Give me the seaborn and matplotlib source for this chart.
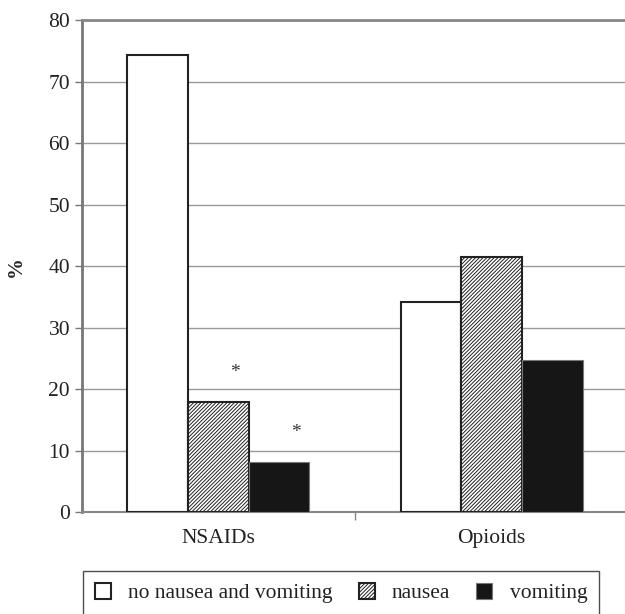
import seaborn as sns
import matplotlib.pyplot as plt
import pandas as pd

# --- data ---
groups = ["NSAIDs", "Opioids"]
outcomes = ["no nausea and vomiting", "nausea", "vomiting"]
no_nausea = [74.3, 34.1]
nausea = [17.9, 41.5]
vomiting = [8.1, 24.7]
# significance marks: (group, outcome)
stars = [("NSAIDs", "nausea"), ("NSAIDs", "vomiting")]

rows = []
for i, g in enumerate(groups):
    for name, vals in zip(outcomes, [no_nausea, nausea, vomiting]):
        rows.append({"group": g, "outcome": name, "pct": vals[i]})
df = pd.DataFrame(rows)

sns.set_style("white")
plt.rcParams["font.family"] = ["Liberation Serif", "DejaVu Serif"]
plt.rcParams["hatch.linewidth"] = 0.7

fig = plt.figure(figsize=(6.25, 6.14), dpi=100)
ax = fig.add_axes([0.131, 0.166, 0.874, 0.801])

sns.barplot(
    data=df, x="group", y="pct", hue="outcome",
    hue_order=outcomes, order=groups,
    palette=["white", "white", "#161616"],
    width=2 / 3, gap=0, legend=False, ax=ax, zorder=3,
)

# style the bars per outcome
styles = [
    dict(edgecolor="#222222", hatch=None, lw=1.5),
    dict(edgecolor="#222222", hatch="/////////", lw=1.5),
    dict(edgecolor="#777777", hatch=None, lw=0.8),
]
for cont, st in zip(ax.containers, styles):
    for p in cont.patches:
        p.set_edgecolor(st["edgecolor"])
        p.set_linewidth(st["lw"])
        if st["hatch"]:
            p.set_hatch(st["hatch"])

# asterisks
for g, o in stars:
    cont = ax.containers[outcomes.index(o)]
    p = cont.patches[groups.index(g)]
    ax.text(p.get_x() + p.get_width() * 0.77, p.get_height() + 4.8, "*",
            ha="center", va="center", fontsize=14, color="#333333")

ax.set_ylim(0, 80)
ax.set_xlim(-0.5, 1.5)
ax.set_yticks(range(0, 81, 10))
ax.yaxis.grid(True, color="#999999", lw=1, zorder=0)
ax.set_axisbelow(True)

ax.spines["right"].set_visible(False)
ax.spines["top"].set_color("#888888")
ax.spines["top"].set_linewidth(2)
ax.spines["left"].set_color("#777777")
ax.spines["left"].set_linewidth(2)
ax.spines["bottom"].set_color("#888888")
ax.spines["bottom"].set_linewidth(1.5)

ax.tick_params(axis="y", length=5, width=1, color="#777777", labelsize=15.5,
               labelcolor="#222222", direction="out", left=True)
ax.set_xticks([0, 1])
ax.set_xticklabels(groups)
ax.set_xticks([0.5], minor=True)
ax.tick_params(axis="x", which="major", length=0, labelsize=15.5,
               labelcolor="#222222", pad=12)
ax.tick_params(axis="x", which="minor", length=6, width=1, color="#888888",
               bottom=True)

ax.set_xlabel("")
ax.set_ylabel("%", fontsize=15, fontweight="bold", labelpad=16)

leg = fig.legend(
    handles=list(ax.containers), labels=outcomes, ncol=3,
    loc="upper left", bbox_to_anchor=(0.133, 0.070),
    borderaxespad=0, frameon=True, fancybox=False, fontsize=15.5,
    handlelength=0.75, handleheight=0.75, handletextpad=0.8,
    columnspacing=1.2, borderpad=0.55,
)
leg.get_frame().set_edgecolor("#222222")
leg.get_frame().set_linewidth(1)
for t in leg.get_texts():
    t.set_color("#222222")

fig.savefig("out.png", dpi=100)
